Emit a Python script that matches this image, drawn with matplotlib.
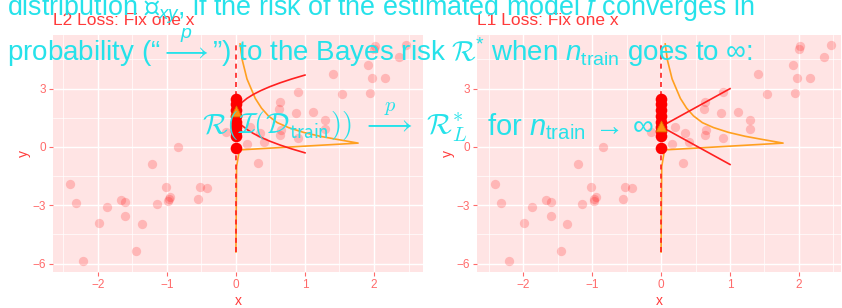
import matplotlib
matplotlib.use('Agg')
import matplotlib.pyplot as plt
from matplotlib.ticker import MultipleLocator

plt.rcParams['font.family'] = ['Liberation Sans', 'DejaVu Sans']
plt.rcParams['mathtext.fontset'] = 'custom'
plt.rcParams['mathtext.rm'] = 'Liberation Sans'
plt.rcParams['mathtext.it'] = 'Liberation Sans:italic'
plt.rcParams['mathtext.bf'] = 'Liberation Sans:bold'
plt.rcParams['mathtext.sf'] = 'Liberation Sans'
plt.rcParams['mathtext.cal'] = 'cmsy10'
plt.rcParams['mathtext.fallback'] = 'stix'

# sample (x, y) pairs
pts_x = [-2.41, -2.32, -2.21, -1.99, -1.87, -1.67, -1.60, -1.60, -1.45, -1.36, -1.21, -1.15, -1.01, -0.97, -0.95,
         -0.98, -0.84, -0.55, -0.52, -0.42, 0.32,
         -0.15, 0.16, 0.20, 0.35, 0.40, 0.64, 0.65, 0.62, 0.64, 0.87, 0.90, 0.90, 1.11, 1.29, 1.29, 1.41, 1.53,
         1.94, 1.97, 2.16, 1.92, 2.00, 2.01, 2.36, 2.46]
pts_y = [-1.92, -2.90, -5.88, -3.93, -3.09, -2.73, -2.85, -3.57, -5.36, -3.97, -0.89, -2.95, -2.04, -2.66, -2.56,
         -2.80, 0.00, -2.68, -2.08, -2.11, -0.81,
         0.78, 0.15, 1.05, 0.70, 0.27, 0.62, 0.88, 1.95, 2.32, 1.74, 0.45, 2.82, 1.80, 1.39, 0.90, 3.73, 2.70,
         2.76, 3.54, 3.54, 4.23, 5.05, 5.20, 4.65, 5.25]

# draws of y at the fixed x = 0
fixed_y = [2.45, 2.20, 1.90, 1.60, 1.30, 1.05, 0.80, 0.55, -0.05]

# conditional density of y | x = 0, drawn sideways
dens_y = [-5.4, -1.0, -0.15, 0.2, 0.4, 0.55, 0.75, 1.0, 1.25, 1.6, 2.0, 2.5, 3.0, 3.5, 4.5, 5.3]
dens_x = [0.0, 0.01, 0.05, 1.77, 1.45, 1.22, 0.98, 0.76, 0.60, 0.47, 0.37, 0.28, 0.22, 0.16, 0.09, 0.06]

# L2 loss around the optimal constant (sideways parabola)
l2_y = [3.7, 3.5, 3.3, 3.1, 2.9, 2.7, 2.5, 2.3, 2.1, 1.9, 1.7, 1.5, 1.3, 1.1, 0.9, 0.7, 0.5, 0.3, 0.1, -0.1, -0.3]
l2_x = [1.0, 0.81, 0.64, 0.49, 0.36, 0.25, 0.16, 0.09, 0.04, 0.01, 0.0, 0.01, 0.04, 0.09, 0.16, 0.25, 0.36, 0.49,
        0.64, 0.81, 1.0]
l2_opt = 1.85

# L1 loss (sideways V)
l1_y = [3.0, 1.05, -0.9]
l1_x = [1.0, 0.0, 1.0]
l1_opt = 1.1

xticks = [-2, -1, 0, 1, 2]
yticks = [-6, -3, 0, 3]

panels = [
    ('L2 Loss: Fix one x', l2_x, l2_y, l2_opt, (-2.65, 2.71)),
    ('L1 Loss: Fix one x', l1_x, l1_y, l1_opt, (-2.67, 2.61)),
]

W, H = 842, 308
fig = plt.figure(figsize=(W / 100, H / 100), dpi=100)
boxes = [(53, 423), (477, 841)]

bg = '#ffe4e4'
tick_col = '#ff6a6a'
lab_col = '#ff3a3a'

for (title, lx, ly, opt, xlim), (x0, x1) in zip(panels, boxes):
    ax = fig.add_axes([x0 / W, 1 - 272 / H, (x1 - x0) / W, (272 - 35) / H])
    ax.set_facecolor(bg)
    for s in ax.spines.values():
        s.set_visible(False)
    ax.set_xlim(*xlim)
    ax.set_ylim(-6.43, 5.76)
    ax.set_xticks(xticks)
    ax.set_yticks(yticks)
    ax.xaxis.set_minor_locator(MultipleLocator(0.5))
    ax.yaxis.set_minor_locator(MultipleLocator(1.5))
    ax.grid(True, which='major', color='white', lw=1.0)
    ax.grid(True, which='minor', color='white', lw=0.5)
    ax.set_axisbelow(True)
    ax.tick_params(which='major', length=3, width=0.8, color=tick_col, labelcolor=tick_col, labelsize=8.5, pad=2)
    ax.tick_params(which='minor', length=0)

    ax.scatter(pts_x, pts_y, s=45, color='red', alpha=0.2, lw=0, zorder=2)
    ax.plot(dens_x, dens_y, color='#ffa020', lw=1.2, zorder=3)
    ax.plot([0, 0], [-5.4, 5.3], color='#ff2020', lw=1.2, ls=(0, (3, 2.5)), zorder=4)
    ax.plot(lx, ly, color='#ff2020', lw=1.2, zorder=4)
    ax.scatter([0] * len(fixed_y), fixed_y, s=70, color='red', lw=0, zorder=5)
    ax.scatter([0], [opt], s=60, marker='^', color='#ff9010', edgecolor='#e07000', lw=0.6, zorder=6)

    ax.set_title(title, loc='left', color=lab_col, fontsize=12.5, pad=7)
    ax.set_xlabel('x', color=lab_col, fontsize=10, labelpad=2)
    ax.set_ylabel('y', color=lab_col, fontsize=10, labelpad=1)

cyan = '#26e2ea'
fig.text(0.008, 1 - 15 / H, r'distribution ℙ$_{xy}$, if the risk of the estimated model $\hat{f}$ converges in',
         color=cyan, fontsize=19.4, va='baseline', ha='left')
fig.text(0.008, 1 - 61 / H,
         r'probability (“$\overset{p}{\longrightarrow}$”) to the Bayes risk $\mathcal{R}^{*}$ when '
         r'$n_{\mathrm{train}}$ goes to $\infty$:',
         color=cyan, fontsize=20, va='baseline', ha='left')
fig.text(202 / W, 1 - 135 / H,
         r'$\mathcal{R}(\mathcal{I}(\mathcal{D}_{\mathsf{train}}))\ \overset{p}{\longrightarrow}\ \mathcal{R}_{L}^{*}$',
         color=cyan, fontsize=21, va='baseline', ha='left', math_fontfamily='cm')
fig.text(487 / W, 1 - 135 / H, r'for $n_{\mathrm{train}}\,\rightarrow\,\infty$',
         color=cyan, fontsize=21, va='baseline', ha='left')

fig.savefig('out.png', dpi=100)
